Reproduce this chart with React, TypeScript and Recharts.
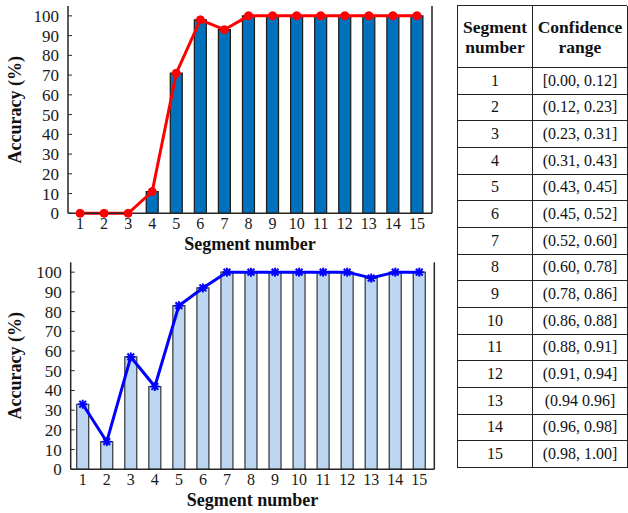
import React from 'react';
import { ComposedChart, Bar, Line, XAxis, YAxis } from 'recharts';

const segments = [1, 2, 3, 4, 5, 6, 7, 8, 9, 10, 11, 12, 13, 14, 15];
const topAccuracy = [0, 0, 0, 11, 71, 98, 93, 100, 100, 100, 100, 100, 100, 100, 100];
const bottomAccuracy = [33, 14, 57, 42, 83, 92, 100, 100, 100, 100, 100, 100, 97, 100, 100];
const yTicks = [0, 10, 20, 30, 40, 50, 60, 70, 80, 90, 100];
const confidenceRanges = [
  '[0.00, 0.12]',
  '(0.12, 0.23]',
  '(0.23, 0.31]',
  '(0.31, 0.43]',
  '(0.43, 0.45]',
  '(0.45, 0.52]',
  '(0.52, 0.60]',
  '(0.60, 0.78]',
  '(0.78, 0.86]',
  '(0.86, 0.88]',
  '(0.88, 0.91]',
  '(0.91, 0.94]',
  '(0.94 0.96]',
  '(0.96, 0.98]',
  '(0.98, 1.00]',
];

const FONT = '"Liberation Serif", "Times New Roman", serif';
const FRAME = '#262626';

const topData = segments.map((s, i) => ({ segment: s, acc: topAccuracy[i] }));
const bottomData = segments.map((s, i) => ({ segment: s, acc: bottomAccuracy[i] }));

const AsteriskDot = (props: any) => {
  const { cx, cy, stroke } = props;
  if (cx == null || cy == null) return null;
  const r = 4.5;
  const d = r * 0.75;
  return (
    <g stroke={stroke} strokeWidth={2}>
      <line x1={cx - r} y1={cy} x2={cx + r} y2={cy} />
      <line x1={cx - d} y1={cy - d} x2={cx + d} y2={cy + d} />
      <line x1={cx - d} y1={cy + d} x2={cx + d} y2={cy - d} />
      <line x1={cx} y1={cy - r} x2={cx} y2={cy + r} />
    </g>
  );
};

type PanelProps = {
  data: { segment: number; acc: number }[];
  barFill: string;
  barStroke: string;
  lineColor: string;
  dot: any;
  yAxisWidth: number;
  marginTop: number;
  marginRight: number;
  xAxisHeight: number;
  labelOffset: number;
};

function Panel(p: PanelProps) {
  return (
    <ComposedChart
      width={450}
      height={256}
      data={p.data}
      margin={{ top: p.marginTop, right: p.marginRight, bottom: 6, left: 0 }}
    >
      <XAxis
        dataKey="segment"
        xAxisId="b"
        height={p.xAxisHeight}
        padding={{ left: 0, right: 3 }}
        interval={0}
        tickLine={false}
        tickSize={0}
        tickMargin={4.5}
        axisLine={{ stroke: FRAME, strokeWidth: 1.5 }}
        tick={{ fontSize: 16, fill: '#1a1a1a', fontFamily: FONT }}
        label={{
          value: 'Segment number',
          position: 'insideBottom',
          offset: p.labelOffset,
          fontSize: 18,
          fontWeight: 'bold',
          fontFamily: FONT,
          fill: '#111',
        }}
      />
      <XAxis
        dataKey="segment"
        xAxisId="t"
        orientation="top"
        mirror
        height={0}
        padding={{ left: 0, right: 3 }}
        tick={false}
        tickLine={false}
        axisLine={{ stroke: FRAME, strokeWidth: 1.5 }}
      />
      <YAxis
        yAxisId="l"
        width={p.yAxisWidth}
        domain={[0, 105]}
        ticks={yTicks}
        interval={0}
        tickSize={-4}
        tickMargin={13}
        tickLine={{ stroke: FRAME }}
        axisLine={{ stroke: FRAME, strokeWidth: 1.5 }}
        tick={{ fontSize: 17, fill: '#1a1a1a', fontFamily: FONT }}
        label={{
          value: 'Accuracy (%)',
          angle: -90,
          position: 'insideLeft',
          offset: 15,
          fontSize: 18,
          fontWeight: 'bold',
          fontFamily: FONT,
          fill: '#111',
          style: { textAnchor: 'middle' },
        }}
      />
      <YAxis
        yAxisId="r"
        orientation="right"
        mirror
        width={1}
        domain={[0, 105]}
        ticks={yTicks}
        interval={0}
        tickSize={4}
        tickFormatter={() => ''}
        tickLine={{ stroke: FRAME }}
        axisLine={{ stroke: FRAME, strokeWidth: 1.5 }}
      />
      <Bar
        xAxisId="b"
        yAxisId="l"
        dataKey="acc"
        barSize={12}
        fill={p.barFill}
        stroke={p.barStroke}
        strokeWidth={1.2}
        isAnimationActive={false}
      />
      <Line
        xAxisId="b"
        yAxisId="l"
        dataKey="acc"
        type="linear"
        stroke={p.lineColor}
        strokeWidth={3}
        dot={p.dot}
        activeDot={false}
        isAnimationActive={false}
      />
    </ComposedChart>
  );
}

const cellBase: React.CSSProperties = {
  boxSizing: 'border-box',
  borderRight: '1.2px solid #222',
  borderBottom: '1.2px solid #222',
  display: 'flex',
  alignItems: 'center',
  justifyContent: 'center',
  textAlign: 'center',
};

export default function App() {
  return (
    <div style={{ position: 'absolute', left: 0, top: 0, width: 628, height: 513, background: '#fff', overflow: 'hidden' }}>
      <div style={{ position: 'absolute', left: 0, top: 0 }}>
        <Panel
          data={topData}
          barFill="#0072BD"
          barStroke="#1a1a1a"
          lineColor="#FF0000"
          dot={{ r: 4, fill: '#FF0000', stroke: '#FF0000', strokeWidth: 1 }}
          yAxisWidth={68}
          marginTop={6}
          marginRight={18}
          xAxisHeight={36.7}
          labelOffset={0.5}
        />
      </div>
      <div style={{ position: 'absolute', left: 0, top: 256 }}>
        <Panel
          data={bottomData}
          barFill="#BDD7F3"
          barStroke="#333333"
          lineColor="#0000FF"
          dot={<AsteriskDot />}
          yAxisWidth={70.7}
          marginTop={6.3}
          marginRight={15.7}
          xAxisHeight={36.7}
          labelOffset={0.5}
        />
      </div>
      <div
        style={{
          position: 'absolute',
          left: 457,
          top: 5,
          width: 170,
          display: 'grid',
          gridTemplateColumns: '75px 95px',
          gridTemplateRows: '62px repeat(15, 26.67px)',
          borderLeft: '1.2px solid #222',
          borderTop: '1.2px solid #222',
          boxSizing: 'border-box',
          fontFamily: FONT,
          color: '#111',
        }}
      >
        <div style={{ ...cellBase, fontWeight: 'bold', fontSize: 17.5, lineHeight: '20px' }}>
          Segment
          <br />
          number
        </div>
        <div style={{ ...cellBase, fontWeight: 'bold', fontSize: 17.5, lineHeight: '20px' }}>
          Confidence
          <br />
          range
        </div>
        {segments.map((s, i) => (
          <React.Fragment key={s}>
            <div style={{ ...cellBase, fontSize: 16 }}>{s}</div>
            <div style={{ ...cellBase, fontSize: 16 }}>{confidenceRanges[i]}</div>
          </React.Fragment>
        ))}
      </div>
    </div>
  );
}
